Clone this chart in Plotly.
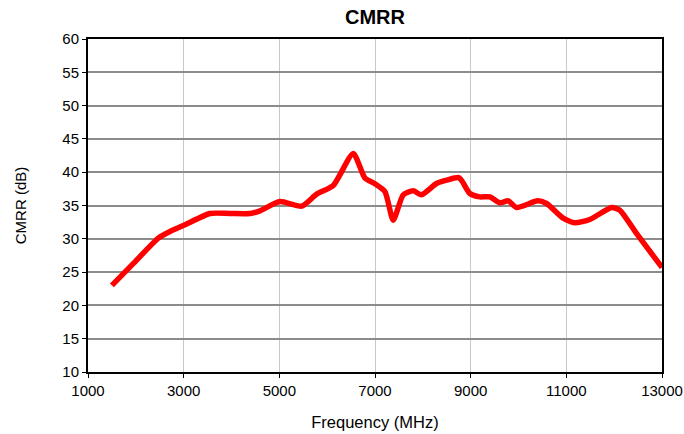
import plotly.graph_objects as go

freq_mhz = [1500, 1950, 2470, 2714, 3027, 3550, 3968, 4386, 4595, 5013, 5466, 5780, 6127,
            6545, 6790, 6990, 7207, 7381, 7590, 7799, 7973, 8286, 8495, 8740, 8808, 8984,
            9193, 9402, 9611, 9785, 9959, 10400, 10586, 10934, 11178, 11492, 11945, 12119,
            12467, 13000]
cmrr_db = [23.0, 26.3, 30.1, 31.1, 32.1, 33.8, 33.8, 33.8, 34.2, 35.6, 34.9, 36.7, 38.0,
           42.8, 39.1, 38.3, 37.1, 32.8, 36.6, 37.2, 36.6, 38.3, 38.8, 39.2, 38.8, 36.8,
           36.3, 36.3, 35.4, 35.7, 34.7, 35.7, 35.3, 33.1, 32.4, 32.9, 34.7, 34.3,
           30.8, 25.7]

x_ticks = [1000, 3000, 5000, 7000, 9000, 11000, 13000]
y_ticks = [10, 15, 20, 25, 30, 35, 40, 45, 50, 55, 60]

fig = go.Figure()
fig.add_trace(go.Scatter(x=freq_mhz, y=cmrr_db, mode="lines",
                         line=dict(color="#ff0000", width=5.5, shape="spline", smoothing=0.6),
                         showlegend=False))

font = "Liberation Sans, Arial, sans-serif"
fig.update_layout(
    width=684, height=434,
    margin=dict(l=88, r=22, t=39, b=62, autoexpand=False),
    paper_bgcolor="white", plot_bgcolor="white",
    title=dict(text="<b>CMRR</b>", x=0.5, xanchor="center", xref="paper",
               y=1, yref="container", yanchor="top", pad=dict(t=10),
               font=dict(family=font, size=20, color="black")),
    font=dict(family=font, size=15, color="black"),
    xaxis=dict(range=[1000, 13000], tickvals=x_ticks, ticktext=[str(v) for v in x_ticks],
               showgrid=True, gridcolor="#c8c8c8", gridwidth=1,
               showline=True, linecolor="black", linewidth=2, mirror=True,
               ticks="outside", ticklen=4, tickcolor="black", automargin=False,
               title=dict(text="Frequency (MHz)", standoff=18, font=dict(size=16.5)),
               tickfont=dict(size=15), zeroline=False),
    yaxis=dict(range=[10, 60], tickvals=y_ticks,
               showgrid=True, gridcolor="#8c8c8c", gridwidth=2,
               showline=True, linecolor="black", linewidth=2, mirror=True,
               ticks="outside", ticklen=4, tickcolor="black", automargin=False,
               title=dict(text="CMRR (dB)", standoff=32, font=dict(size=15)),
               tickfont=dict(size=15), zeroline=False),
)

fig.write_html("out.html", config={"displayModeBar": False},
               post_script="document.body.style.margin='0';")
